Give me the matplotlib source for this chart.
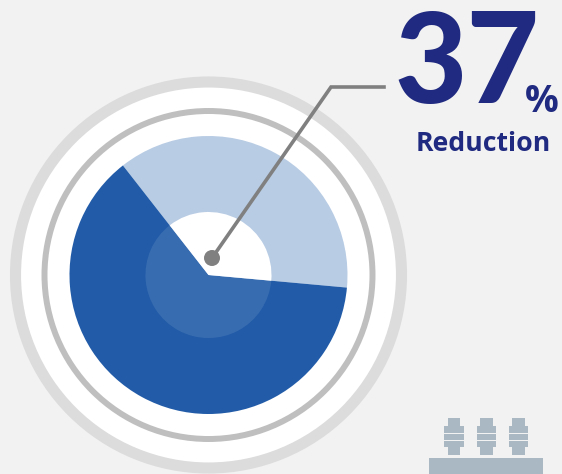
import matplotlib.pyplot as plt
from matplotlib.patches import Circle, Rectangle

# reduction share and what is left
values = [37, 63]
big_label = "37"
unit_label = "%"
caption = "Reduction"

BG = "#f2f2f2"
DARK_BLUE = "#225ca8"
LIGHT_BLUE = "#b8cce4"
NAVY = "#1f2a80"
GRAY = "#808080"
ICON = "#a9b8c3"

CX, CY = 208.5, 275

fig = plt.figure(figsize=(5.62, 4.74), dpi=100, facecolor=BG)
ax = fig.add_axes([0, 0, 1, 1])

# outer rings
ax.add_patch(Circle((CX, CY), 193, fc="white", ec="#dcdcdc", lw=8.0))
ax.add_patch(Circle((CX, CY), 164, fc="white", ec="#bfbfbf", lw=4.3))

# main pie, then the inner disc split the same way
# the y axis runs downwards, so counterclock here turns clockwise on screen
start = -128
ax.pie(values, colors=[LIGHT_BLUE, DARK_BLUE], startangle=start, counterclock=True,
       center=(CX, CY), radius=139, frame=False)
inner, _ = ax.pie(values, colors=["white", "white"], startangle=start, counterclock=True,
                  center=(CX, CY), radius=63, frame=False)
inner[1].set_alpha(0.1)

# leader line from the dot to the number
ax.plot([212, 331, 384], [258, 87, 87], color=GRAY, lw=2.6, solid_joinstyle="miter")
ax.add_patch(Circle((212, 258), 8, fc=GRAY, ec="none", zorder=5))

# small transformer icon in the corner
ax.add_patch(Rectangle((429.3, 458.3), 114, 16.7, fc=ICON, ec="none"))
for x in [454, 486.5, 518.7]:
    ax.add_patch(Rectangle((x - 6.3, 418), 12.6, 8, fc=ICON, ec="none"))
    ax.add_patch(Rectangle((x - 6.3, 447), 12.6, 7.5, fc=ICON, ec="none"))
    for y, h in [(425.8, 6.8), (433.5, 6.2), (440.7, 6.2)]:
        ax.add_patch(Rectangle((x - 9.7, y), 19.4, h, fc=ICON, ec="none"))

ax.text(394, 102.5, big_label, family="Lato", weight="black", fontsize=90, color=NAVY,
        ha="left", va="baseline")
ax.text(525, 112, unit_label, family="Open Sans", weight="bold", fontsize=27, color=NAVY,
        ha="left", va="baseline")
ax.text(483.5, 151, caption, family="Open Sans", weight="bold", fontsize=19.2, color=NAVY,
        ha="center", va="baseline")

ax.set_xlim(0, 562)
ax.set_ylim(474, 0)
ax.set_aspect("equal")
ax.axis("off")

fig.savefig("out.png", dpi=100, facecolor=BG)
